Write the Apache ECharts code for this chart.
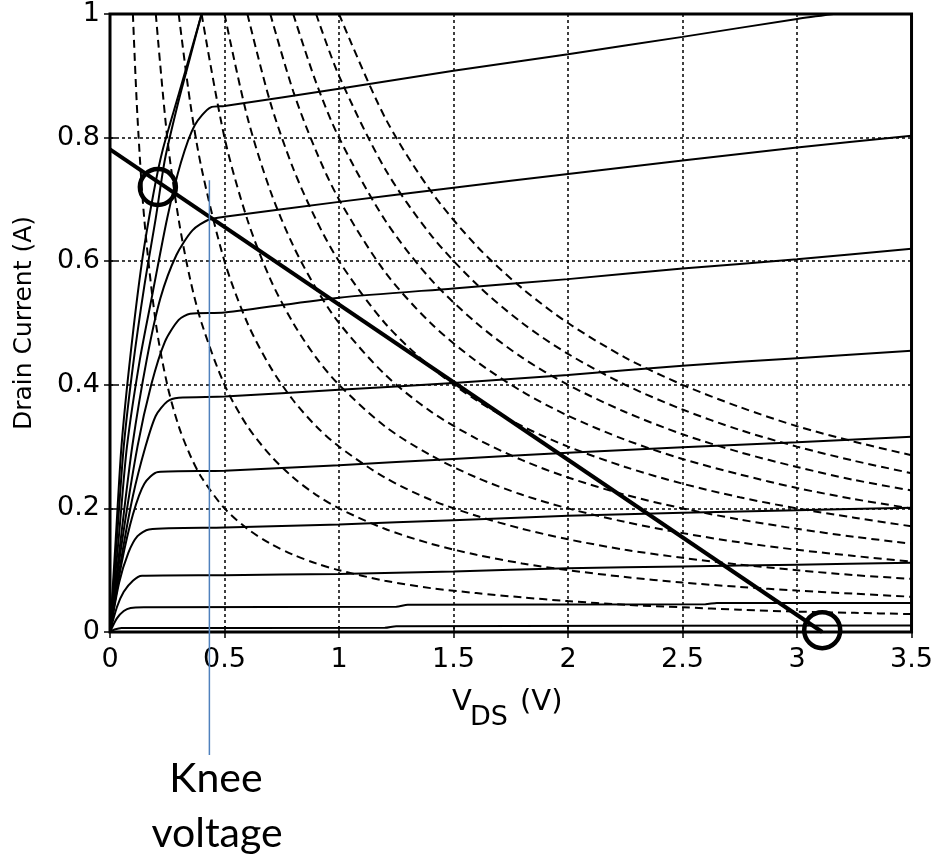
<!DOCTYPE html>
<html>
<head>
<meta charset="utf-8">
<title>Drain current vs V_DS</title>
<script src="https://cdn.jsdelivr.net/npm/echarts@6.0.0/dist/echarts.min.js"></script>
<style>
  html, body { margin: 0; padding: 0; background: #fff; }
  #chart { width: 936px; height: 862px; }
</style>
</head>
<body>
<div id="chart"></div>
<script>
// output curves, one per gate voltage: [V_DS, I_D]
const c01 = [[0,0],[0.02,0.004],[0.05,0.0065],[1.2,0.0068],[1.25,0.0095],[3.5,0.0105]];
const c02 = [[0,0],[0.03,0.022],[0.06,0.034],[0.09,0.039],[0.15,0.040],[1.25,0.041],[1.3,0.044],[2.6,0.045],[2.65,0.047],[3.5,0.047]];
const c03 = [[0,0],[0.03,0.04],[0.06,0.065],[0.1,0.083],[0.14,0.091],[0.5,0.092],[1.0,0.094],[1.5,0.098],[2.0,0.103],[2.5,0.106],[3.0,0.109],[3.5,0.112]];
const c04 = [[0,0],[0.04,0.08],[0.08,0.128],[0.12,0.155],[0.17,0.166],[0.5,0.169],[1.0,0.174],[1.5,0.181],[2.0,0.188],[2.5,0.193],[3.0,0.197],[3.5,0.201]];
const c05 = [[0,0],[0.05,0.11],[0.1,0.19],[0.15,0.24],[0.21,0.259],[0.5,0.261],[1.0,0.27],[1.5,0.28],[2.0,0.29],[2.5,0.299],[3.0,0.307],[3.5,0.316]];
const c06 = [[0,0],[0.05,0.12],[0.1,0.22],[0.155,0.3],[0.2,0.35],[0.25,0.373],[0.3,0.379],[0.5,0.381],[1.0,0.392],[1.5,0.403],[2.0,0.416],[2.5,0.431],[3.0,0.443],[3.5,0.455]];
const c07 = [[0,0],[0.05,0.14],[0.12,0.3],[0.18,0.4],[0.24,0.47],[0.3,0.505],[0.35,0.515],[0.5,0.517],[1.0,0.541],[1.5,0.556],[2.0,0.571],[2.5,0.588],[3.0,0.603],[3.5,0.62]];
const c08 = [[0,0],[0.05,0.16],[0.097,0.3],[0.16,0.44],[0.22,0.54],[0.29,0.61],[0.36,0.65],[0.43,0.667],[0.5,0.672],[1.0,0.696],[1.5,0.719],[2.0,0.741],[2.5,0.763],[3.0,0.784],[3.5,0.803]];
const c09 = [[0,0],[0.04,0.16],[0.074,0.3],[0.13,0.44],[0.187,0.55],[0.25,0.67],[0.31,0.76],[0.37,0.82],[0.44,0.849],[0.5,0.851],[1.0,0.879],[1.5,0.908],[2.0,0.935],[2.5,0.963],[3.0,0.992],[3.16,1.0]];
const c10 = [[0,0],[0.03,0.15],[0.06,0.3],[0.1,0.43],[0.15,0.56],[0.2,0.67],[0.24,0.765],[0.3,0.86],[0.35,0.93],[0.4,1.0]];
const c11 = [[0,0],[0.025,0.15],[0.05,0.3],[0.09,0.45],[0.14,0.6],[0.19,0.71],[0.23,0.78],[0.3,0.87],[0.35,0.935],[0.4,1.0]];

// constant power hyperbolas (0.1 W ... 1.0 W), read at these V_DS values
const vPow = [0.1,0.12,0.15,0.2,0.25,0.3,0.35,0.4,0.5,0.6,0.7,0.8,0.9,1.0,1.2,1.4,1.6,1.8,2.0,2.25,2.5,2.75,3.0,3.25,3.5];
const pw01 = [1.0,0.833,0.667,0.5,0.4,0.333,0.286,0.25,0.2,0.167,0.143,0.125,0.111,0.1,0.083,0.071,0.063,0.056,0.05,0.044,0.04,0.036,0.033,0.031,0.029];
const pw02 = [null,null,null,1.0,0.8,0.667,0.571,0.5,0.4,0.333,0.286,0.25,0.222,0.2,0.167,0.143,0.125,0.111,0.1,0.089,0.08,0.073,0.067,0.062,0.057];
const pw03 = [null,null,null,null,null,1.0,0.857,0.75,0.6,0.5,0.429,0.375,0.333,0.3,0.25,0.214,0.188,0.167,0.15,0.133,0.12,0.109,0.1,0.092,0.086];
const pw04 = [null,null,null,null,null,null,null,1.0,0.8,0.667,0.571,0.5,0.444,0.4,0.333,0.286,0.25,0.222,0.2,0.178,0.16,0.145,0.133,0.123,0.114];
const pw05 = [null,null,null,null,null,null,null,null,1.0,0.833,0.714,0.625,0.556,0.5,0.417,0.357,0.313,0.278,0.25,0.222,0.2,0.182,0.167,0.154,0.143];
const pw06 = [null,null,null,null,null,null,null,null,null,1.0,0.857,0.75,0.667,0.6,0.5,0.429,0.375,0.333,0.3,0.267,0.24,0.218,0.2,0.185,0.171];
const pw07 = [null,null,null,null,null,null,null,null,null,null,1.0,0.875,0.778,0.7,0.583,0.5,0.438,0.389,0.35,0.311,0.28,0.255,0.233,0.215,0.2];
const pw08 = [null,null,null,null,null,null,null,null,null,null,null,1.0,0.889,0.8,0.667,0.571,0.5,0.444,0.4,0.356,0.32,0.291,0.267,0.246,0.229];
const pw09 = [null,null,null,null,null,null,null,null,null,null,null,null,1.0,0.9,0.75,0.643,0.563,0.5,0.45,0.4,0.36,0.327,0.3,0.277,0.257];
const pw10 = [null,null,null,null,null,null,null,null,null,null,null,null,null,1.0,0.833,0.714,0.625,0.556,0.5,0.444,0.4,0.364,0.333,0.308,0.286];

// load line, operating-point circles, knee voltage marker
const loadLine = [[0, 0.781], [3.11, 0]];
const circlePts = [[0.209, 0.72], [3.11, 0.003]];
const kneeV = 0.434;
const kneeLine = [[kneeV, 0.731], [kneeV, -0.199]];

const chart = echarts.init(document.getElementById('chart'));

const series = [];

[pw01, pw02, pw03, pw04, pw05, pw06, pw07, pw08, pw09, pw10].forEach(function (arr) {
  series.push({
    type: 'line',
    data: vPow.map((v, i) => [v, arr[i]]).filter(p => p[1] !== null),
    showSymbol: false,
    smooth: 0.3,
    lineStyle: { color: '#000', width: 2, type: [8, 5] },
    z: 3
  });
});

[c01, c02, c03, c04, c05, c06, c07, c08, c09, c10, c11].forEach(function (arr) {
  series.push({
    type: 'line',
    data: arr,
    showSymbol: false,
    smooth: 0.25,
    lineStyle: { color: '#000', width: 2 },
    z: 4
  });
});

series.push({
  type: 'line',
  data: loadLine,
  showSymbol: false,
  lineStyle: { color: '#000', width: 4 },
  z: 5
});

series.push({
  type: 'scatter',
  data: circlePts,
  symbol: 'circle',
  symbolSize: 36,
  clip: false,
  itemStyle: { color: 'rgba(0,0,0,0)', borderColor: '#000', borderWidth: 4.5, opacity: 1 },
  z: 6
});

series.push({
  type: 'line',
  data: kneeLine,
  showSymbol: false,
  clip: false,
  lineStyle: { color: '#4F81BD', width: 1.5 },
  z: 7
});

const axisText = { color: '#000', fontSize: 27, fontFamily: 'DejaVu Sans' };
const tickStyle = { inside: true, length: 6, lineStyle: { color: '#000', width: 1.5 } };
const gridLine = { show: true, lineStyle: { color: '#000', width: 1.5, type: [3, 3] } };

const option = {
  animation: false,
  backgroundColor: '#fff',
  grid: {
    left: 110, top: 14, width: 806, height: 618,
    show: true, borderColor: '#000', borderWidth: 3
  },
  xAxis: [{
    type: 'value',
    min: 0, max: 3.5, interval: 0.5,
    axisLine: { show: false },
    axisTick: tickStyle,
    axisLabel: Object.assign({ margin: 14 }, axisText),
    splitLine: gridLine
  }, {
    type: 'value', position: 'top',
    min: 0, max: 3.5, interval: 0.5,
    axisLine: { show: false }, axisTick: tickStyle,
    axisLabel: { show: false }, splitLine: { show: false }
  }],
  yAxis: [{
    type: 'value',
    min: 0, max: 1, interval: 0.2,
    name: 'Drain Current (A)',
    nameLocation: 'middle',
    nameGap: 73,
    nameTextStyle: { color: '#000', fontSize: 25, fontFamily: 'DejaVu Sans' },
    axisLine: { show: false },
    axisTick: tickStyle,
    axisLabel: Object.assign({ margin: 10 }, axisText),
    splitLine: gridLine
  }, {
    type: 'value', position: 'right',
    min: 0, max: 1, interval: 0.2,
    axisLine: { show: false }, axisTick: tickStyle,
    axisLabel: { show: false }, splitLine: { show: false }
  }],
  graphic: [
    { type: 'text', x: 452, y: 702, style: { text: 'V', font: '29px "DejaVu Sans"', fill: '#000', align: 'left', verticalAlign: 'middle' } },
    { type: 'text', x: 470, y: 718, style: { text: 'DS', font: '27px "DejaVu Sans"', fill: '#000', align: 'left', verticalAlign: 'middle' } },
    { type: 'text', x: 520, y: 702, style: { text: '(V)', font: '29px "DejaVu Sans"', fill: '#000', align: 'left', verticalAlign: 'middle' } },
    { type: 'text', x: 216, y: 779, style: { text: 'Knee', font: '41px Lato', fill: '#000', align: 'center', verticalAlign: 'middle' } },
    { type: 'text', x: 217, y: 834, style: { text: 'voltage', font: '41px Lato', fill: '#000', align: 'center', verticalAlign: 'middle' } }
  ],
  series: series
};

chart.setOption(option);
</script>
</body>
</html>
